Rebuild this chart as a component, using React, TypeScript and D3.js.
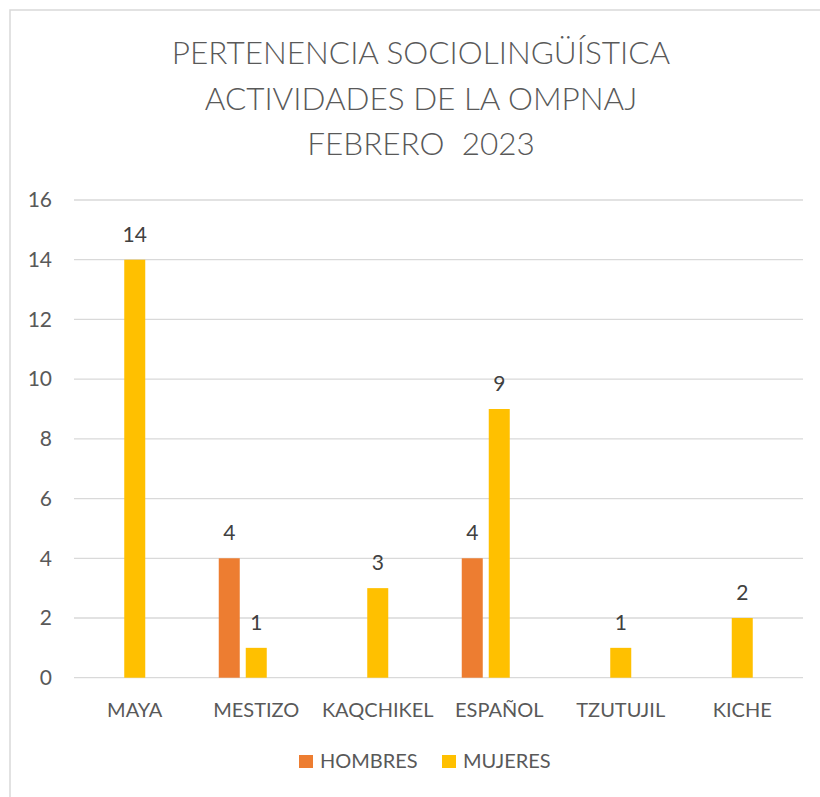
import React from "react";
import * as d3 from "d3";

const categories = ["MAYA", "MESTIZO", "KAQCHIKEL", "ESPAÑOL", "TZUTUJIL", "KICHE"];
const seriesNames = ["HOMBRES", "MUJERES"];
const hombres: (number | null)[] = [null, 4, null, 4, null, null];
const mujeres: (number | null)[] = [14, 1, 3, 9, 1, 2];
const seriesColors = ["#ED7D31", "#FFC000"];
const yTicks = [0, 2, 4, 6, 8, 10, 12, 14, 16];
const titleLines = ["PERTENENCIA SOCIOLINGÜÍSTICA", "ACTIVIDADES DE LA OMPNAJ", "FEBRERO  2023"];

const W = 820;
const H = 797;
const FONT = "Lato, 'Open Sans', 'Liberation Sans', sans-serif";

export default function App() {
  const left = 74, right = 803, top = 200, bottom = 677.7;
  const x0 = d3.scaleBand<string>().domain(categories).range([left, right]).padding(0);
  const x1 = d3.scaleBand<string>().domain(seriesNames).range([-37.5, 10.5]).paddingInner(6 / 27).paddingOuter(0);
  const y = d3.scaleLinear().domain([0, 16]).range([bottom, top]);
  const data = [hombres, mujeres];

  return (
    <svg width={W} height={H} style={{ position: "absolute", left: 0, top: 0, background: "#fff" }} fontFamily={FONT}>
      <rect x={10} y={10} width={W + 20} height={H + 20} fill="#fff" stroke="#d9d9d9" strokeWidth={1.5} />
      {titleLines.map((t, i) => (
        <text key={t} x={421} y={64 + i * 45.5} textAnchor="middle" fontSize={31.5} fill="#595959" fontWeight={300} style={{ whiteSpace: "pre" }}>
          {t}
        </text>
      ))}
      {yTicks.map((t) => (
        <g key={t}>
          <line x1={left} x2={right} y1={y(t)} y2={y(t)} stroke="#d9d9d9" strokeWidth={1.3} />
          <text x={52} y={y(t)} dy="0.35em" textAnchor="end" fontSize={21} fill="#595959">
            {t}
          </text>
        </g>
      ))}
      {categories.map((c, ci) => {
        const cx = (x0(c) ?? 0) + x0.bandwidth() / 2;
        return (
          <g key={c}>
            {seriesNames.map((s, si) => {
              const v = data[si][ci];
              if (v == null) return null;
              const bx = cx + (x1(s) ?? 0);
              return (
                <g key={s}>
                  <rect x={bx} y={y(v)} width={x1.bandwidth()} height={y(0) - y(v)} fill={seriesColors[si]} />
                  <text x={bx + x1.bandwidth() / 2} y={y(v) - 18} textAnchor="middle" fontSize={21} fill="#404040">
                    {v}
                  </text>
                </g>
              );
            })}
            <text x={cx} y={717} textAnchor="middle" fontSize={20} fill="#595959">
              {c}
            </text>
          </g>
        );
      })}
      {seriesNames.map((s, si) => {
        const lx = [299, 442][si];
        return (
          <g key={s}>
            <rect x={lx} y={755} width={14} height={13} fill={seriesColors[si]} />
            <text x={lx + 21} y={768} fontSize={20} fill="#595959">
              {s}
            </text>
          </g>
        );
      })}
    </svg>
  );
}
